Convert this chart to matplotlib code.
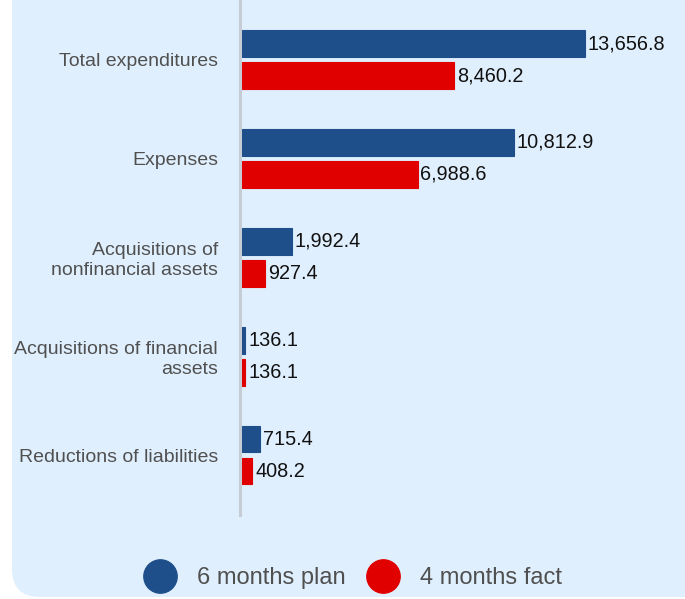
import numpy as np
import matplotlib.pyplot as plt
from matplotlib.patches import FancyBboxPatch
from matplotlib.lines import Line2D

plt.rcParams['font.family'] = ['Liberation Sans', 'DejaVu Sans']

categories = ['Total expenditures', 'Expenses', 'Acquisitions of\nnonfinancial assets',
              'Acquisitions of financial\nassets', 'Reductions of liabilities']
plan_6m = [13656.8, 10812.9, 1992.4, 136.1, 715.4]
fact_4m = [8460.2, 6988.6, 927.4, 136.1, 408.2]
series_names = ['6 months plan', '4 months fact']

blue = '#1f4f8b'
red = '#e00000'
bg = '#e0effd'

fig = plt.figure(figsize=(6.85, 5.99), dpi=100)
fig.patch.set_facecolor('white')

# light blue panel with rounded bottom-left corner (pixel coords)
panel = FancyBboxPatch((12, 2), 720, 700, boxstyle='round,pad=0,rounding_size=28',
                       transform=None, facecolor=bg, edgecolor='none', zorder=-5)
fig.patches.append(panel)

ax = fig.add_axes([242 / 685, 1 - 515 / 599, 443 / 685, 515 / 599])
ax.set_facecolor('none')
ax.set_zorder(2)

# spine first: set_position resets tick styling
for s in ['top', 'right', 'bottom']:
    ax.spines[s].set_visible(False)
ax.spines['left'].set_position(('outward', 1.2))
ax.spines['left'].set_color('#c5ccd5')
ax.spines['left'].set_linewidth(2.2)

y = np.arange(len(categories))
h = 0.27
off = 0.162
ax.barh(y - off, plan_6m, height=h, color=blue, edgecolor=blue, linewidth=0.8, zorder=3)
ax.barh(y + off, fact_4m, height=h, color=red, edgecolor=red, linewidth=0.8, zorder=3)

for yi, v in zip(y - off, plan_6m):
    ax.annotate(f'{v:,.1f}', (v, yi), xytext=(2, 0), textcoords='offset points',
                va='center', ha='left', fontsize=14.3, color='#111111')
for yi, v in zip(y + off, fact_4m):
    ax.annotate(f'{v:,.1f}', (v, yi), xytext=(2, 0), textcoords='offset points',
                va='center', ha='left', fontsize=14.3, color='#111111')

ax.set_xlim(0, 17638)
ax.set_ylim(4.606, -0.602)
ax.set_yticks(y)
ax.set_yticklabels(categories, fontsize=14, color='#505050')
ax.tick_params(axis='y', length=0, pad=16)
ax.set_xticks([])

handles = [Line2D([], [], marker='o', linestyle='none', markersize=24, color=blue),
           Line2D([], [], marker='o', linestyle='none', markersize=24, color=red)]
fig.legend(handles, series_names, loc='center', bbox_to_anchor=(0.514, 0.035),
           ncol=2, frameon=False, fontsize=17, handlelength=1.5, handletextpad=0.8,
           columnspacing=0.85, labelcolor='#505050')

fig.savefig('out.png', dpi=100)
